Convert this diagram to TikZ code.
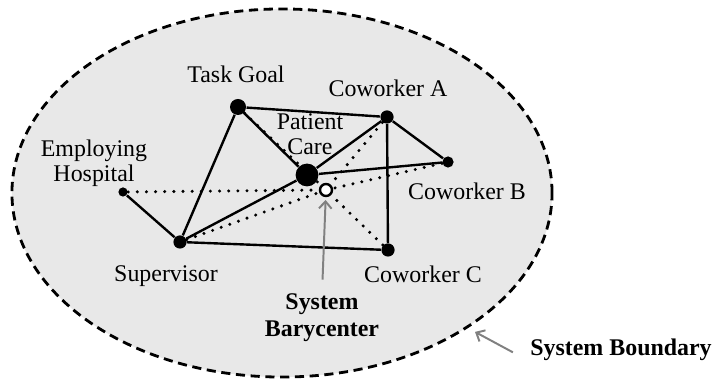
\documentclass[tikz,border=0pt]{standalone}
\usepackage{fontspec}
\setmainfont{Liberation Serif}
\usetikzlibrary{shapes.geometric,arrows.meta,backgrounds}

\begin{document}
\begin{tikzpicture}[x=0.025cm,y=-0.025cm,thick,>=stealth,
	dot/.style={circle,fill=black,inner sep=0pt,minimum size=#1},
	barydot/.style={circle,draw=black,fill=white,line width=1.7pt,inner sep=0pt,minimum size=0.3cm},
	tie/.style={line width=1.7pt},
	pull/.style={line width=2.4pt,dash pattern=on 0pt off 6.5pt,line cap=round},
	lbl/.style={font=\fontsize{17}{17.5}\selectfont,align=center,inner sep=0pt},
	note/.style={font=\fontsize{17}{19}\selectfont\bfseries,align=center,inner sep=0pt},
	pointer/.style={draw=black!50,line width=1.4pt,-{Straight Barb[length=5pt,width=9pt]}}]
	\useasboundingbox (0,0) rectangle (717,379);
	% members of the system
	\node[dot=0.4cm] (task) at (238,107) {};
	\node[dot=0.33cm] (cwa) at (387,117) {};
	\node[dot=0.57cm] (care) at (307,175) {};
	\node[dot=0.28cm] (cwb) at (448,162) {};
	\node[dot=0.23cm] (hosp) at (123,192) {};
	\node[dot=0.33cm] (sup) at (180,242) {};
	\node[dot=0.33cm] (cwc) at (388,250) {};
	\node[barydot] (bary) at (326,190) {};
	% labels
	\node[lbl] (lbltask) at (236,74) {Task Goal};
	\node[lbl] (lblcwa) at (388,88) {Coworker A};
	\node[lbl] (lblcare) at (310,134) {Patient\\Care};
	\node[lbl] (lblhosp) at (94,163) {Employing\\Hospital};
	\node[lbl] (lblcwb) at (467,191) {Coworker B};
	\node[lbl] (lblsup) at (166,276) {Supervisor};
	\node[lbl] (lblcwc) at (423,274) {Coworker C};
	\node[note] (lblbary) at (322,318) {System\\Barycenter};
	\node[note] (lblbnd) at (621,350) {System Boundary};
	\begin{pgfonlayer}{background}
		\node[ellipse,draw,fill=black!9,line width=2pt,dash pattern=on 6.5pt off 4pt,
			minimum width=13.5cm,minimum height=9.2cm] (boundary) at (282,193) {};
		% pulls towards the barycenter
		\draw[pull] (hosp) -- (bary);
		\draw[pull] (sup) -- (bary);
		\draw[pull] (task) -- (bary);
		\draw[pull] (cwa) -- (bary);
		\draw[pull] (cwb) -- (bary);
		\draw[pull] (cwc) -- (bary);
		% ties between members
		\draw[tie] (task) -- (cwa);
		\draw[tie] (task) -- (care);
		\draw[tie] (task) -- (sup);
		\draw[tie] (cwa) -- (care);
		\draw[tie] (cwa) -- (cwb);
		\draw[tie] (cwa) -- (cwc);
		\draw[tie] (care) -- (cwb);
		\draw[tie] (care) -- (sup);
		\draw[tie] (sup) -- (hosp);
		\draw[tie] (sup) -- (cwc);
	\end{pgfonlayer}
	\draw[pointer,shorten <=0.35cm,shorten >=2pt] (lblbary.north) -- (bary);
	\draw[pointer,shorten <=0.48cm,shorten >=0.2cm] (lblbnd.south west) -- (boundary.-36);
\end{tikzpicture}
\end{document}
